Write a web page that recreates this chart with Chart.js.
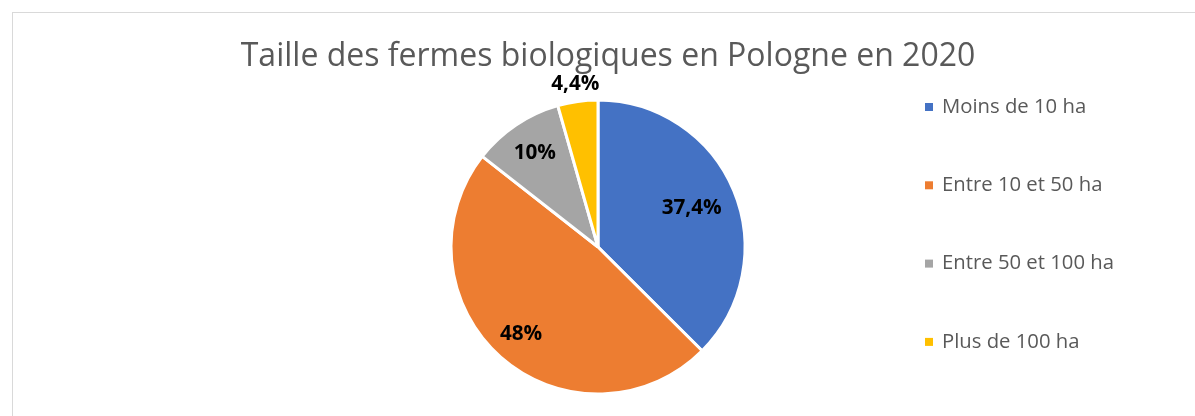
<!DOCTYPE html>
<html lang="fr">
<head>
<meta charset="utf-8">
<title>Taille des fermes biologiques en Pologne en 2020</title>
<script src="https://cdn.jsdelivr.net/npm/chart.js@4/dist/chart.umd.min.js"></script>
<style>
    html, body {
        margin: 0;
        padding: 0;
        background: #ffffff;
        overflow: hidden;
    }
    .frame {
        position: absolute;
        left: 12px;
        top: 12px;
        width: 1300px;
        height: 500px;
        border-left: 1px solid #d9d9d9;
        border-top: 1px solid #d9d9d9;
    }
    .fermes {
        position: absolute;
        left: 0;
        top: 0;
        width: 1195px;
        height: 416px;
    }
</style>
</head>
<body>
<div class="frame"></div>
<div class="fermes"><canvas class="fermes---chart" width="1195" height="416"></canvas></div>

<script>
"use strict";

const categories = ["Moins de 10 ha", "Entre 10 et 50 ha", "Entre 50 et 100 ha", "Plus de 100 ha"];
const shares = [37.4, 48, 10, 4.4];
const colors = ["#4472c4", "#ed7d31", "#a5a5a5", "#ffc000"];

const thetitle = "Taille des fermes biologiques en Pologne en 2020";

// how far from the centre each percentage sits, as a share of the radius
const labelreach = [0.69, 0.79, 0.77, 1.12];

const textcolor = "#595959";

function percent(v) {
    return v.toLocaleString("fr-FR") + "%";
}

// title, legend and percentages are painted by hand so they can sit freely around the pie
const decorations = {
    id: "decorations",
    afterDraw(chart) {
        const ctx = chart.ctx;
        ctx.save();

        ctx.fillStyle = textcolor;
        ctx.font = "32px 'Open Sans'";
        ctx.textAlign = "center";
        ctx.textBaseline = "middle";
        ctx.fillText(thetitle, 608, 57);

        ctx.font = "20.3px 'Open Sans'";
        ctx.textAlign = "left";
        chart.data.labels.forEach((label, i) => {
            const y = 107 + i * 78.3;
            ctx.fillStyle = chart.data.datasets[0].backgroundColor[i];
            ctx.fillRect(925, y - 4, 8, 8);
            ctx.fillStyle = textcolor;
            ctx.fillText(label, 942, y);
        });

        ctx.fillStyle = "#000000";
        ctx.font = "bold 20.7px 'Open Sans'";
        ctx.textAlign = "center";
        const meta = chart.getDatasetMeta(0);
        meta.data.forEach((arc, i) => {
            const p = arc.getProps(["x", "y", "startAngle", "endAngle", "outerRadius"], true);
            const mid = (p.startAngle + p.endAngle) / 2;
            const r = p.outerRadius * labelreach[i];
            ctx.fillText(percent(chart.data.datasets[0].data[i]), p.x + Math.cos(mid) * r, p.y + Math.sin(mid) * r);
        });

        ctx.restore();
    }
};

new Chart(document.querySelector(".fermes---chart"), {
    type: "pie",
    data: {
        labels: categories,
        datasets: [{
            data: shares,
            backgroundColor: colors,
            borderColor: "#ffffff",
            borderWidth: 3,
            radius: 147
        }]
    },
    options: {
        responsive: false,
        animation: false,
        layout: {
            padding: { left: 451, right: 450, top: 100, bottom: 22 }
        },
        plugins: {
            legend: { display: false },
            title: { display: false },
            tooltip: { enabled: false }
        }
    },
    plugins: [decorations]
});
</script>
</body>
</html>
